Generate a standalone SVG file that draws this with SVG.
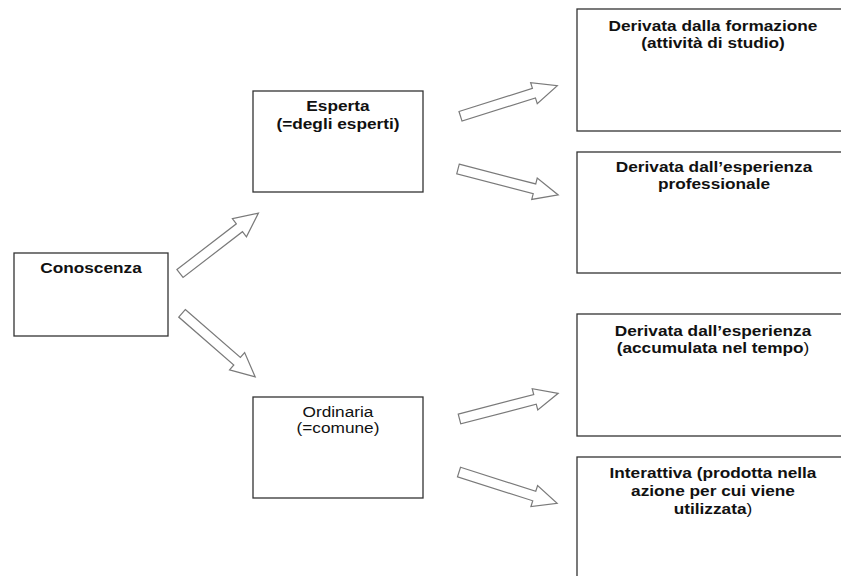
<svg xmlns="http://www.w3.org/2000/svg" width="841" height="576" viewBox="0 0 841 576">
  <style>
    .box { fill: #ffffff; stroke: #333333; stroke-width: 1.3; }
    .arrow { fill: #ffffff; stroke: #7a7a7a; stroke-width: 1.2; stroke-linejoin: miter; }
    .label { font-family: "Liberation Sans", Arial, sans-serif; font-size: 15px; font-weight: bold; fill: #111111; text-anchor: middle; }
    .thin { font-weight: normal; }
  </style>
  <rect width="841" height="576" fill="#ffffff"/>

  <!-- block arrows: shaft along +x, tail at origin -->
  <g id="connectors">
    <path class="arrow" transform="translate(180,273.5) rotate(-37.6)" d="M0,-5 H75 V-11.5 L99,0 L75,11.5 V5 H0 Z"/>
    <path class="arrow" transform="translate(182,313.3) rotate(41)" d="M0,-5 H73 V-11.5 L97,0 L73,11.5 V5 H0 Z"/>
    <path class="arrow" transform="translate(460.5,116.3) rotate(-17.5)" d="M0,-5 H77 V-11 L101.5,0 L77,11 V5 H0 Z"/>
    <path class="arrow" transform="translate(458,169) rotate(14.5)" d="M0,-5 H79 V-11 L103.5,0 L79,11 V5 H0 Z"/>
    <path class="arrow" transform="translate(459.5,419) rotate(-14.6)" d="M0,-5 H78 V-11 L102,0 L78,11 V5 H0 Z"/>
    <path class="arrow" transform="translate(459,472) rotate(17.7)" d="M0,-5 H79 V-11 L103,0 L79,11 V5 H0 Z"/>
  </g>

  <g id="conoscenza">
    <rect class="box" x="14" y="253" width="154" height="83"/>
    <text class="label" transform="translate(91,273) scale(1.15,1)">Conoscenza</text>
  </g>

  <g id="esperta">
    <rect class="box" x="253" y="91" width="170" height="101"/>
    <text class="label" transform="translate(338,111) scale(1.15,1)">Esperta</text>
    <text class="label" transform="translate(338,129) scale(1.15,1)">(=degli esperti)</text>
  </g>

  <g id="ordinaria">
    <rect class="box" x="253" y="397" width="170" height="101"/>
    <text class="label thin" transform="translate(338,417) scale(1.15,1)">Ordinaria</text>
    <text class="label thin" transform="translate(338,433) scale(1.15,1)">(=comune)</text>
  </g>

  <g id="formazione">
    <rect class="box" x="577" y="9" width="270" height="122"/>
    <text class="label" transform="translate(713,31) scale(1.15,1)">Derivata dalla formazione</text>
    <text class="label" transform="translate(713,48) scale(1.15,1)">(attività di studio)</text>
  </g>

  <g id="esperienza-professionale">
    <rect class="box" x="577" y="152" width="270" height="121"/>
    <text class="label" transform="translate(714,172) scale(1.15,1)">Derivata dall’esperienza</text>
    <text class="label" transform="translate(714,189) scale(1.15,1)">professionale</text>
  </g>

  <g id="esperienza-accumulata">
    <rect class="box" x="577" y="314" width="270" height="122"/>
    <text class="label" transform="translate(713,336) scale(1.15,1)">Derivata dall’esperienza</text>
    <text class="label" transform="translate(713,353) scale(1.15,1)">(accumulata nel tempo<tspan class="thin">)</tspan></text>
  </g>

  <g id="interattiva">
    <rect class="box" x="577" y="457" width="270" height="130"/>
    <text class="label" transform="translate(713,478) scale(1.15,1)">Interattiva (prodotta nella</text>
    <text class="label" transform="translate(713,496) scale(1.15,1)">azione per cui viene</text>
    <text class="label" transform="translate(713,514) scale(1.15,1)">utilizzata<tspan class="thin">)</tspan></text>
  </g>
</svg>
